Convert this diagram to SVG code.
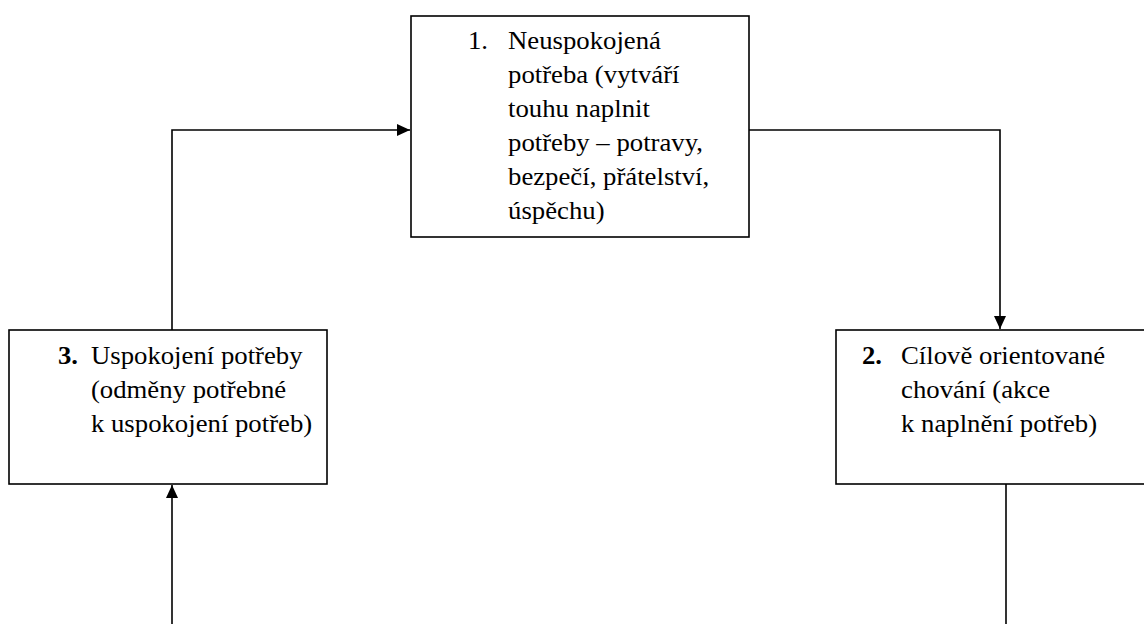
<svg xmlns="http://www.w3.org/2000/svg" width="1144" height="624" viewBox="0 0 1144 624">
<style>
.box{fill:#fff;stroke:#000;stroke-width:1.6}
.ln{fill:none;stroke:#000;stroke-width:1.6}
text{font-family:"Liberation Serif","Times New Roman",serif;font-size:25px;fill:#000}
.b{font-weight:bold}
</style>
<defs>
<marker id="ah" markerWidth="14" markerHeight="12" refX="13" refY="6" orient="auto" markerUnits="userSpaceOnUse">
<path d="M0,0 L13,6 L0,12 Z" fill="#000"/>
</marker>
</defs>
<rect width="1144" height="624" fill="#fff"/>
<g id="connectors">
<path class="ln" d="M172,330 V130 H410" marker-end="url(#ah)"/>
<path class="ln" d="M749,130 H1000 V329" marker-end="url(#ah)"/>
<path class="ln" d="M172,624 V485" marker-end="url(#ah)"/>
<path class="ln" d="M1006,484 V624"/>
</g>
<g id="node1">
<rect class="box" x="411" y="16" width="338" height="221"/>
<g transform="scale(1.07,1)">
<text x="437.4" y="49">1.</text>
<text x="474.8" y="49">Neuspokojená</text>
<text x="474.8" y="83">potřeba (vytváří</text>
<text x="474.8" y="117">touhu naplnit</text>
<text x="474.8" y="151">potřeby – potravy,</text>
<text x="474.8" y="185">bezpečí, přátelství,</text>
<text x="474.8" y="219">úspěchu)</text>
</g>
</g>
<g id="node3">
<rect class="box" x="9" y="330" width="318" height="154"/>
<g transform="scale(1.07,1)">
<text class="b" x="54.2" y="364">3.</text>
<text x="85" y="364">Uspokojení potřeby</text>
<text x="85" y="398">(odměny potřebné</text>
<text x="85" y="432">k uspokojení potřeb)</text>
</g>
</g>
<g id="node2">
<rect class="box" x="836" y="330" width="312" height="154"/>
<g transform="scale(1.07,1)">
<text class="b" x="805.6" y="364">2.</text>
<text x="842.1" y="364">Cílově orientované</text>
<text x="842.1" y="398">chování (akce</text>
<text x="842.1" y="432">k naplnění potřeb)</text>
</g>
</g>
</svg>
